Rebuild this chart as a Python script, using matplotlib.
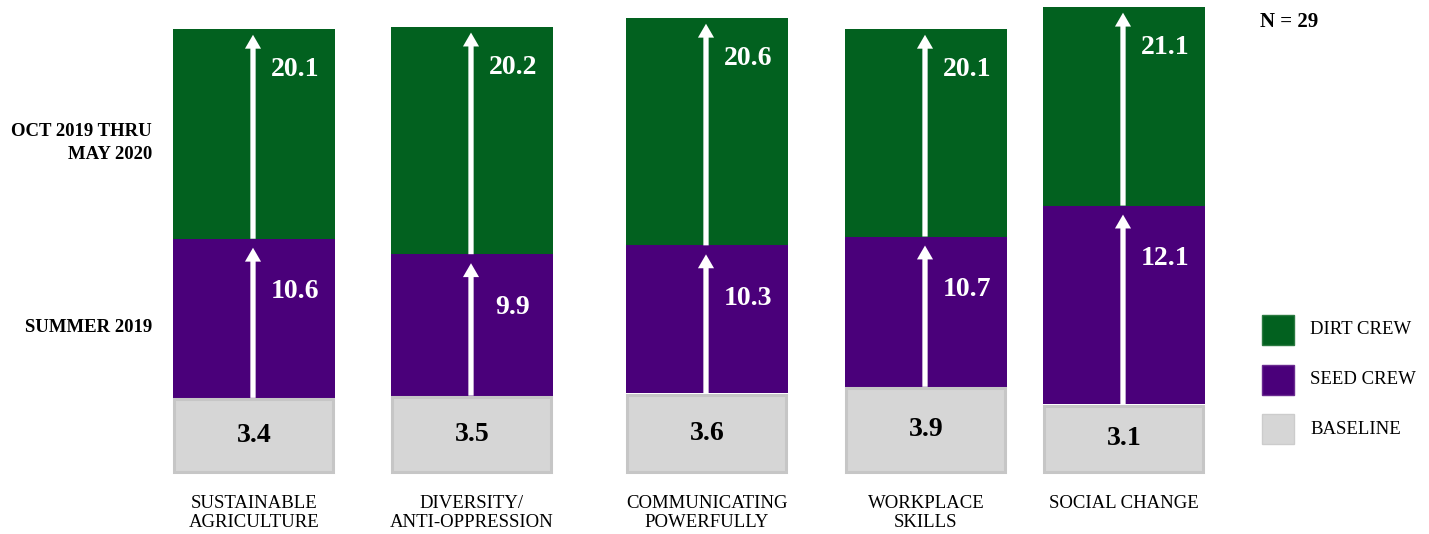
import matplotlib
matplotlib.use("Agg")
import matplotlib.pyplot as plt
from matplotlib.patches import Rectangle

plt.rcParams["font.family"] = ["Liberation Serif", "DejaVu Serif"]

categories = ["SUSTAINABLE\nAGRICULTURE", "DIVERSITY/\nANTI-OPPRESSION",
              "COMMUNICATING\nPOWERFULLY", "WORKPLACE\nSKILLS", "SOCIAL CHANGE"]
baseline = [3.4, 3.5, 3.6, 3.9, 3.1]
seed_crew = [10.6, 9.9, 10.3, 10.7, 12.1]
dirt_crew = [20.1, 20.2, 20.6, 20.1, 21.1]
period_labels = ["OCT 2019 THRU\nMAY 2020", "SUMMER 2019"]
legend_labels = ["DIRT CREW", "SEED CREW", "BASELINE"]
n_text = "N = 29"

GREEN = "#02611f"
PURPLE = "#4a007a"
GREY = "#d6d6d6"
GREY_EDGE = "#c6c6c6"

# layout (figure pixels)
W, H = 1429, 534
x_centers = [254, 472, 707, 926, 1124]
bar_w = 162
zero_px = 473
px_per_unit = 22.1

fig = plt.figure(figsize=(W / 100, H / 100), dpi=100)
ax = fig.add_axes([0, 0, 1, 1])
ax.set_xlim(0, W)
ax.set_ylim(-(H - zero_px) / px_per_unit, zero_px / px_per_unit)
ax.axis("off")

u = 1 / px_per_unit  # one pixel in data units

arrow_style = "simple,head_length=0.5,head_width=0.58,tail_width=0.19"

for i, xc in enumerate(x_centers):
    b, s, d = baseline[i], seed_crew[i], dirt_crew[i]
    # stacked segments from level to level
    ax.bar(xc, d - s, bottom=s, width=bar_w, color=GREEN, linewidth=0)
    ax.bar(xc, s - b, bottom=b, width=bar_w, color=PURPLE, linewidth=0)
    ax.bar(xc, b - 3 * u, bottom=1.5 * u, width=bar_w - 3, color=GREY,
           edgecolor=GREY_EDGE, linewidth=2.2)

    # arrows
    for lo, hi, gap in [(b, s, 9), (s, d, 6)]:
        ax.annotate("", xy=(xc - 1, hi - gap * u), xytext=(xc - 1, lo),
                    arrowprops=dict(arrowstyle=arrow_style, color="white",
                                    lw=0, shrinkA=0, shrinkB=0,
                                    mutation_scale=20))

    # value labels
    ax.annotate(f"{d:.1f}", xy=(xc + 41, d), xytext=(0, -41),
                textcoords="offset pixels", ha="center", va="center",
                color="white", fontsize=20, fontweight="bold")
    ax.annotate(f"{s:.1f}", xy=(xc + 41, s), xytext=(0, -53),
                textcoords="offset pixels", ha="center", va="center",
                color="white", fontsize=20, fontweight="bold")
    ax.text(xc, b / 2, f"{b:.1f}", ha="center", va="center",
            color="black", fontsize=20, fontweight="bold")

    # category labels
    ax.text(xc, -22 * u, categories[i], ha="center", va="top",
            fontsize=13.5, linespacing=1.15)

# period labels on the left
ax.text(152, (zero_px - 143) * u, period_labels[0], ha="right", va="center",
        fontsize=13.5, fontweight="bold", linespacing=1.5)
ax.text(152, (zero_px - 327) * u, period_labels[1], ha="right", va="center",
        fontsize=13.5, fontweight="bold")

# N
ax.text(1260, (zero_px - 22) * u, n_text, ha="left", va="center",
        fontsize=15, fontweight="bold")

# legend
legend_colors = [GREEN, PURPLE, GREY]
legend_edges = ["#2a7a40", "#6a2a90", "#cccccc"]
legend_tops = [315, 365, 414]
for lab, c, ec, top in zip(legend_labels, legend_colors, legend_edges, legend_tops):
    ax.add_patch(Rectangle((1262, (zero_px - top - 30) * u), 32, 30 * u,
                           facecolor=c, edgecolor=ec, linewidth=1))
    ax.text(1310, (zero_px - top - 15) * u, lab, ha="left", va="center",
            fontsize=13.5)

fig.savefig("out.png", dpi=100)
